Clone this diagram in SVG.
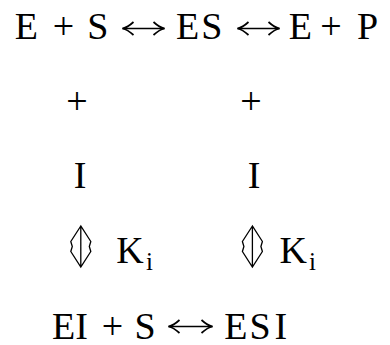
<svg xmlns="http://www.w3.org/2000/svg" width="390" height="345" viewBox="0 0 390 345">
  <style>
    text { font-family: "Liberation Serif", "Times New Roman", serif; font-size: 38px; fill: #000; text-anchor: middle; }
    .sub { font-size: 25px; }
    .eq { fill: none; stroke: #000; stroke-width: 1.4; }
    .dbl { fill: none; stroke: #000; stroke-width: 1.3; stroke-linejoin: miter; }
  </style>
  <defs>
    <marker id="barb" markerUnits="userSpaceOnUse" viewBox="-13 -8 14 16" refX="0" refY="0" markerWidth="14" markerHeight="16" orient="auto-start-reverse">
      <path d="M-11,-6.5 Q-5,-1 0,0 Q-5,1 -11,6.5" fill="none" stroke="#000" stroke-width="1.7"/>
    </marker>
  </defs>
  <rect width="390" height="345" fill="#fff"/>

  <!-- top reaction: E + S <-> ES <-> E + P -->
  <g id="node-e-s">
    <text x="26.4" y="38.5">E</text>
    <text x="63.4" y="38.5">+</text>
    <text x="97.8" y="38.5">S</text>
  </g>
  <g id="node-es">
    <text x="187.5" y="38.5">E</text>
    <text x="211.7" y="38.5">S</text>
  </g>
  <g id="node-e-p">
    <text x="300.4" y="38.5">E</text>
    <text x="330.9" y="38.5">+</text>
    <text x="367.5" y="38.5">P</text>
  </g>

  <!-- inhibitor added to each species -->
  <g id="node-plus-1"><text x="77" y="114">+</text></g>
  <g id="node-plus-2"><text x="251" y="114">+</text></g>
  <g id="node-i-1"><text x="80" y="187.5">I</text></g>
  <g id="node-i-2"><text x="254" y="187.5">I</text></g>

  <!-- dissociation constants -->
  <g id="node-ki-1">
    <text x="130" y="262.5">K</text>
    <text class="sub" x="149.5" y="270">i</text>
  </g>
  <g id="node-ki-2">
    <text x="293.3" y="262.5">K</text>
    <text class="sub" x="312.5" y="270">i</text>
  </g>

  <!-- bottom reaction: EI + S <-> ESI -->
  <g id="node-ei-s">
    <text x="63.5" y="338.5">E</text>
    <text x="81.7" y="338.5">I</text>
    <text x="112.5" y="338.5">+</text>
    <text x="145" y="338.5">S</text>
  </g>
  <g id="node-esi">
    <text x="235.8" y="338.5">E</text>
    <text x="260" y="338.5">S</text>
    <text x="280.8" y="338.5">I</text>
  </g>

  <!-- equilibrium arrows -->
  <g id="connectors">
    <line class="eq" x1="122.5" y1="28.5" x2="164.5" y2="28.5" marker-start="url(#barb)" marker-end="url(#barb)"/>
    <line class="eq" x1="237.5" y1="28.5" x2="279.5" y2="28.5" marker-start="url(#barb)" marker-end="url(#barb)"/>
    <line class="eq" x1="168.5" y1="326.5" x2="212.5" y2="326.5" marker-start="url(#barb)" marker-end="url(#barb)"/>
    <!-- open double-headed vertical arrows -->
    <path class="dbl" d="M80.8,226 L70.8,241.5 L72.3,246.5 L70.8,251.5 L80.8,267 L90.8,251.5 L89.3,246.5 L90.8,241.5 Z M80.8,226 V267"/>
    <path class="dbl" d="M252.4,226 L242.4,241.5 L243.9,246.5 L242.4,251.5 L252.4,267 L262.4,251.5 L260.9,246.5 L262.4,241.5 Z M252.4,226 V267"/>
  </g>
</svg>
